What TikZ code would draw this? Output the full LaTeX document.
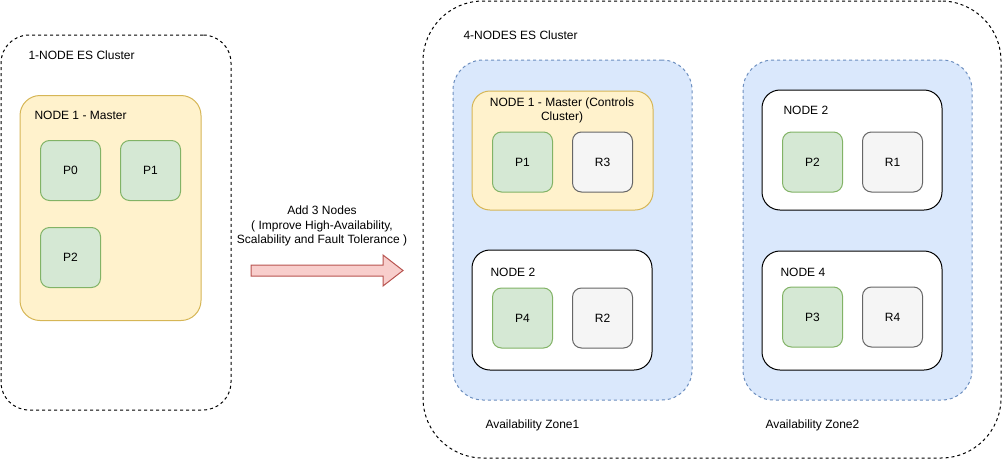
\documentclass[tikz,border=0pt]{standalone}
\usepackage{fontspec}
\setmainfont{Liberation Sans}
\usetikzlibrary{arrows.meta}

\definecolor{masterfill}{HTML}{FFF2CC}
\definecolor{masterline}{HTML}{D6B656}
\definecolor{primfill}{HTML}{D5E8D4}
\definecolor{primline}{HTML}{82B366}
\definecolor{repfill}{HTML}{F5F5F5}
\definecolor{repline}{HTML}{666666}
\definecolor{zonefill}{HTML}{DAE8FC}
\definecolor{zoneline}{HTML}{6C8EBF}
\definecolor{addfill}{HTML}{F8CECC}
\definecolor{addline}{HTML}{B85450}

\begin{document}
\begin{tikzpicture}[x=1pt, y=-1pt,
    every node/.style={font=\fontsize{12}{14.5}\selectfont, line width=1pt},
    cluster/.style={draw, dash pattern=on 3pt off 3pt, rounded corners=#1, inner sep=0},
    zonebox/.style={draw=zoneline, fill=zonefill, dash pattern=on 3pt off 3pt, rounded corners=30, inner sep=0},
    masterbox/.style={draw=masterline, fill=masterfill, rounded corners=#1, inner sep=0},
    nodebox/.style={draw, fill=white, rounded corners=18, inner sep=0},
    shardbox/.style={minimum width=60, minimum height=60, rounded corners=9, inner sep=0},
    primary/.style={shardbox, draw=primline, fill=primfill},
    replica/.style={shardbox, draw=repline, fill=repfill},
    caption/.style={anchor=west, inner sep=0}
  ]
  \useasboundingbox (0,0) rectangle (1003,461);

  % left side: one node
  \node[cluster=28, minimum width=230, minimum height=375] (oneCluster) at (116,222.5) {};
  \node[caption] (oneTitle) at (28,55) {1-NODE ES Cluster};
  \node[masterbox=20, minimum width=181, minimum height=225] (oneMaster) at (110.5,208) {};
  \node[caption] (oneMasterTitle) at (34,115) {NODE 1 - Master};
  \node[primary] (oneP0) at (70.5,170.5) {P0};
  \node[primary] (oneP1) at (150.5,170.5) {P1};
  \node[primary] (oneP2) at (70.5,257.5) {P2};

  % the step in between
  \node[align=center, inner sep=0] (addText) at (322,226) {Add 3 Nodes\\( Improve High-Availability,\\Scalability and Fault Tolerance )};
  \draw[line width=1pt, draw=addline, fill=addfill]
    (251,265) -- (383,265) -- (383,255) -- (403,270.5) -- (383,286) -- (383,276) -- (251,276) -- cycle;

  % right side: four nodes in two zones
  \node[cluster=60, minimum width=578, minimum height=457] (fourCluster) at (712,229.5) {};
  \node[caption] (fourTitle) at (463,35) {4-NODES ES Cluster};
  \node[zonebox, minimum width=239, minimum height=340] (zoneOne) at (572.5,230) {};
  \node[zonebox, minimum width=229, minimum height=340] (zoneTwo) at (857.5,230) {};
  \node[caption] (zoneOneTitle) at (485,425) {Availability Zone1};
  \node[caption] (zoneTwoTitle) at (765,425) {Availability Zone2};

  \node[masterbox=18, minimum width=181, minimum height=119] (fourMaster) at (562.5,150.5) {};
  \node[align=center, inner sep=0] (fourMasterTitle) at (562,110.5) {NODE 1 - Master (Controls\\Cluster)};
  \node[primary] (fourP1) at (522.5,162) {P1};
  \node[replica] (fourR3) at (602.5,162) {R3};

  \node[nodebox, minimum width=180, minimum height=120] (zoneOneNode) at (562,310) {};
  \node[caption] (zoneOneNodeTitle) at (490,272) {NODE 2};
  \node[primary] (fourP4) at (522.5,318) {P4};
  \node[replica] (fourR2) at (602.5,318) {R2};

  \node[nodebox, minimum width=180, minimum height=120] (zoneTwoNodeA) at (852,150) {};
  \node[caption] (zoneTwoNodeATitle) at (783,110) {NODE 2};
  \node[primary] (fourP2) at (812.5,162) {P2};
  \node[replica] (fourR1) at (892.5,162) {R1};

  \node[nodebox, minimum width=180, minimum height=119] (zoneTwoNodeB) at (852,310.5) {};
  \node[caption] (zoneTwoNodeBTitle) at (780,272) {NODE 4};
  \node[primary] (fourP3) at (812.5,317) {P3};
  \node[replica] (fourR4) at (892.5,317) {R4};
\end{tikzpicture}
\end{document}
